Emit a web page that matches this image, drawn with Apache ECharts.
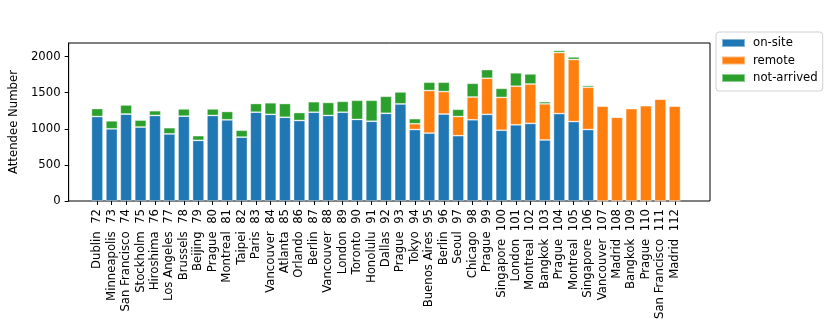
<!DOCTYPE html>
<html>
<head>
<meta charset="utf-8">
<script src="https://cdn.jsdelivr.net/npm/echarts@6/dist/echarts.min.js"></script>
<style>html,body{margin:0;padding:0;background:#fff}#c{width:831px;height:327px}</style>
</head>
<body>
<div id="c"></div>
<script>
const cities = ["Dublin","Minneapolis","San Francisco","Stockholm","Hiroshima","Los Angeles","Brussels","Beijing","Prague","Montreal","Taipei","Paris","Vancouver","Atlanta","Orlando","Berlin","Vancouver","London","Toronto","Honolulu","Dallas","Prague","Tokyo","Buenos Aires","Berlin","Seoul","Chicago","Prague","Singapore","London","Montreal","Bangkok","Prague","Montreal","Singapore","Vancouver","Madrid","Bangkok","Prague","San Francisco","Madrid"];
const meetings = [72,73,74,75,76,77,78,79,80,81,82,83,84,85,86,87,88,89,90,91,92,93,94,95,96,97,98,99,100,101,102,103,104,105,106,107,108,109,110,111,112];
const onSite = [1170,1000,1205,1025,1185,930,1175,840,1185,1125,885,1230,1200,1160,1115,1230,1185,1230,1130,1105,1215,1345,990,940,1205,905,1125,1200,980,1055,1075,845,1210,1100,990,0,0,0,0,0,0];
const remote = [0,0,0,0,0,0,0,0,0,0,0,0,0,0,0,0,0,0,0,0,0,0,80,590,310,265,315,500,455,535,545,500,845,860,585,1315,1160,1280,1320,1410,1315];
const notArrived = [110,110,125,95,65,85,100,65,90,115,95,120,160,190,110,145,180,150,265,290,235,165,70,115,130,100,190,120,125,185,140,30,30,35,25,0,0,0,0,0,0];
const yTicks = [0,500,1000,1500,2000];

(function(){
const labels = cities.map((c,i)=>c + '  ' + meetings[i]);
const F = 'DejaVu Sans';
const FS = 11.7;
const W = 831;
const frameL = 62, frameR = 121, gTop = 43, gBottom = 126;
const n = labels.length;
const mg = 0.05 * (n - 1 + 0.8);
const span = (n - 1 + 0.8) + 2 * mg;
const ppu = (W - frameL - frameR) / span;
const barsL = frameL + (mg + 0.4 - 0.5) * ppu;
const barsR = W - (barsL + n * ppu);
const yMax = 2188;
const edge = {borderColor: 'rgba(255,255,255,0.45)', borderWidth: 0.8};

const chart = echarts.init(document.getElementById('c'), null, {renderer:'canvas'});
chart.setOption({
  animation: false,
  backgroundColor: '#fff',
  textStyle: {fontFamily: F},
  grid: [
    {left: frameL, right: frameR, top: gTop, bottom: gBottom, show: true, borderColor: '#000', borderWidth: 1, backgroundColor: 'transparent'},
    {left: barsL, right: barsR, top: gTop, bottom: gBottom}
  ],
  legend: {
    orient: 'vertical', left: 716, top: 32,
    data: ['on-site','remote','not-arrived'],
    icon: 'rect', itemWidth: 23, itemHeight: 8, itemGap: 5.5,
    padding: [5, 5, 7, 5],
    borderColor: '#d0d0d0', borderWidth: 1, borderRadius: 3,
    textStyle: {fontFamily: F, fontSize: FS, color: '#000', padding: [0,0,0,3]}
  },
  xAxis: [
    {type: 'value', gridIndex: 0, min: 0, max: 1, show: false},
    {type: 'category', gridIndex: 1, data: labels, boundaryGap: true,
      axisLine: {show: false},
      axisTick: {show: true, alignWithLabel: true, length: 4, lineStyle: {color: '#000'}},
      axisLabel: {rotate: 90, margin: 8, fontSize: FS, color: '#000', fontFamily: F, interval: 0},
      splitLine: {show: false}}
  ],
  yAxis: [
    {type: 'value', gridIndex: 0, min: 0, max: yMax,
      name: 'Attendee Number', nameLocation: 'middle', nameRotate: 90, nameGap: 42,
      nameTextStyle: {fontFamily: F, fontSize: FS, color: '#000'},
      axisLine: {show: true, onZero: false, lineStyle: {color: '#000', width: 1}},
      axisTick: {show: true, length: 4, lineStyle: {color: '#000'}, customValues: yTicks},
      axisLabel: {customValues: yTicks, margin: 8, fontSize: FS, color: '#000', fontFamily: F, formatter: v => String(v)},
      splitLine: {show: false}},
    {type: 'value', gridIndex: 1, min: 0, max: yMax, show: false}
  ],
  series: [
    {name: 'on-site', type: 'bar', stack: 't', xAxisIndex: 1, yAxisIndex: 1, barWidth: '80%', data: onSite, itemStyle: Object.assign({color: '#1f77b4'}, edge)},
    {name: 'remote', type: 'bar', stack: 't', xAxisIndex: 1, yAxisIndex: 1, barWidth: '80%', data: remote, itemStyle: Object.assign({color: '#ff7f0e'}, edge)},
    {name: 'not-arrived', type: 'bar', stack: 't', xAxisIndex: 1, yAxisIndex: 1, barWidth: '80%', data: notArrived, itemStyle: Object.assign({color: '#2ca02c'}, edge)}
  ]
});
})();
</script>
</body>
</html>
